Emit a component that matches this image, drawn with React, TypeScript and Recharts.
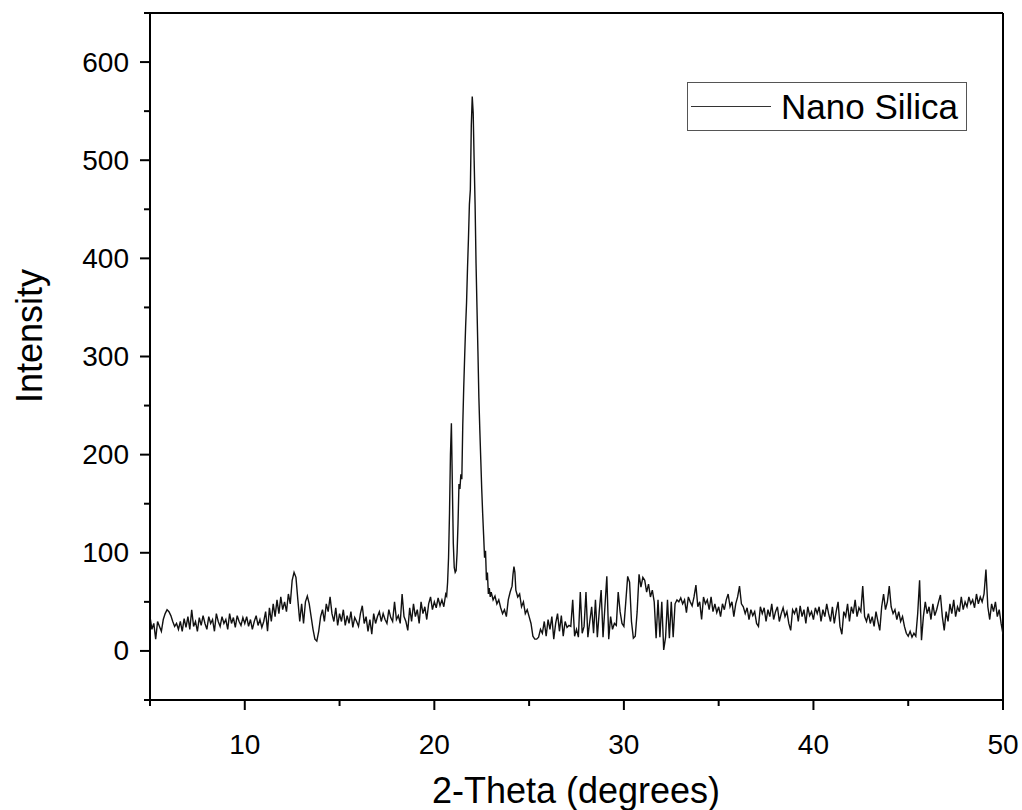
import { LineChart, Line, XAxis, YAxis, Legend, Label, ReferenceLine } from 'recharts';

// XRD scan of nano silica, 0.1 deg steps
const scan05to10 = [
  35, 22, 28, 12, 30, 25, 20, 32, 38, 42,
  40, 36, 30, 25, 28, 22, 30, 20, 33, 24,
  35, 22, 42, 25, 30, 20, 34, 26, 36, 28,
  22, 35, 28, 32, 20, 38, 30, 25, 35, 28,
  32, 22, 38, 28, 34, 24, 36, 30, 26, 34,
];
const scan10to15 = [
  28, 35, 25, 32, 22, 30, 36, 26, 32, 24,
  30, 40, 20, 44, 30, 48, 35, 52, 38, 55,
  42, 50, 40, 58, 48, 72, 80, 75, 52, 30,
  48, 28, 50, 56, 48, 35, 22, 12, 10, 20,
  35, 42, 30, 48, 40, 55, 38, 30, 44, 26,
];
const scan15to20 = [
  38, 30, 42, 26, 36, 28, 40, 24, 34, 30,
  25, 38, 46, 28, 35, 20, 32, 17, 38, 28,
  35, 40, 30, 38, 32, 28, 42, 34, 30, 50,
  32, 36, 28, 58, 35, 30, 21, 44, 30, 48,
  35, 42, 28, 50, 38, 45, 32, 48, 55, 42,
];
// main reflection region, finer sampling
const peakTheta = [
  20.0, 20.1, 20.2, 20.3, 20.4, 20.5, 20.6, 20.65, 20.7, 20.75, 20.8, 20.85, 20.9, 20.95,
  21.0, 21.05, 21.1, 21.15, 21.2, 21.25, 21.3, 21.35, 21.4, 21.45, 21.5, 21.55, 21.6, 21.65,
  21.7, 21.75, 21.8, 21.85, 21.9, 21.95, 22.0, 22.05, 22.1, 22.15, 22.2, 22.25, 22.3, 22.35,
  22.4, 22.45, 22.5, 22.55, 22.6, 22.65, 22.7, 22.75, 22.8, 22.85, 22.9, 22.95, 23.0, 23.1,
  23.2, 23.3, 23.4, 23.5, 23.6, 23.7, 23.8, 23.9, 24.0, 24.1, 24.15, 24.2, 24.25, 24.3,
  24.4, 24.5, 24.6, 24.7, 24.8, 24.9,
];
const peakIntensity = [
  50, 44, 54, 46, 52, 45, 58, 56, 70, 95, 140, 200, 232, 170,
  110, 85, 80, 82, 100, 130, 170, 165, 180, 175, 230, 268, 300, 330,
  355, 390, 420, 455, 470, 535, 565, 548, 500, 455, 395, 350, 305, 258,
  225, 195, 165, 140, 118, 95, 102, 72, 80, 58, 64, 55, 60, 52,
  56, 48, 52, 44, 38, 42, 35, 52, 60, 66, 78, 86, 80, 62,
  55, 58, 45, 50, 38, 42,
];
const scan25to30 = [
  35, 28, 15, 12, 12, 14, 22, 18, 30, 15,
  32, 22, 35, 12, 28, 38, 20, 36, 15, 30,
  24, 26, 25, 52, 15, 22, 14, 60, 18, 25,
  60, 14, 30, 45, 18, 52, 14, 40, 62, 14,
  45, 76, 12, 35, 22, 28, 26, 60, 40, 28,
];
const scan30to35 = [
  25, 50, 76, 70, 30, 13, 15, 40, 78, 65,
  75, 72, 60, 68, 55, 62, 50, 13, 52, 14,
  50, 1, 14, 52, 13, 50, 14, 48, 52, 50,
  54, 48, 52, 39, 55, 50, 46, 55, 67, 45,
  50, 32, 55, 48, 52, 42, 55, 40, 48, 39,
];
const scan35to40 = [
  45, 35, 48, 42, 52, 58, 45, 50, 35, 48,
  55, 66, 48, 45, 38, 44, 32, 42, 36, 40,
  28, 25, 45, 38, 44, 30, 42, 35, 48, 32,
  40, 45, 30, 38, 44, 35, 40, 28, 21, 42,
  38, 44, 30, 46, 35, 42, 28, 45, 36, 40,
];
const scan40to45 = [
  32, 44, 38, 45, 30, 42, 35, 48, 38, 30,
  45, 28, 40, 50, 25, 17, 40, 35, 48, 30,
  45, 38, 52, 35, 44, 40, 66, 35, 30, 38,
  28, 35, 25, 40, 30, 21, 45, 58, 42, 50,
  66, 45, 38, 42, 32, 40, 30, 35, 25, 18,
];
const scan45to50 = [
  15, 20, 14, 18, 15, 38, 72, 11, 35, 50,
  38, 45, 32, 48, 36, 42, 50, 57, 35, 21,
  40, 30, 48, 38, 52, 35, 45, 40, 55, 42,
  50, 45, 55, 48, 52, 44, 58, 48, 55, 50,
  58, 83, 45, 32, 48, 40, 50, 35, 42, 28, 17,
];

const yTicks = [-50, 0, 50, 100, 150, 200, 250, 300, 350, 400, 450, 500, 550, 600, 650];
const xTicks = [5, 10, 15, 20, 25, 30, 35, 40, 45, 50];

const FONT = '"Liberation Sans", Arial, sans-serif';

function stepRows(start: number, values: number[]) {
  return values.map((v, i) => ({ theta: Math.round((start + i * 0.1) * 100) / 100, intensity: v }));
}

const data = [
  ...stepRows(5, scan05to10),
  ...stepRows(10, scan10to15),
  ...stepRows(15, scan15to20),
  ...peakTheta.map((t, i) => ({ theta: t, intensity: peakIntensity[i] })),
  ...stepRows(25, scan25to30),
  ...stepRows(30, scan30to35),
  ...stepRows(35, scan35to40),
  ...stepRows(40, scan40to45),
  ...stepRows(45, scan45to50),
];

const YTick = (props: any) => {
  const { x, y, payload } = props;
  const major = payload.value % 100 === 0;
  return (
    <g>
      <line x1={x} y1={y} x2={x - (major ? 10 : 6)} y2={y} stroke="#000" strokeWidth={2} />
      {major && (
        <text x={x - 21} y={y} textAnchor="end" dominantBaseline="central" fontSize={28} fontFamily={FONT} fill="#000">
          {payload.value}
        </text>
      )}
    </g>
  );
};

const XTick = (props: any) => {
  const { x, y, payload } = props;
  const major = payload.value % 10 === 0;
  return (
    <g>
      <line x1={x} y1={y} x2={x} y2={y + (major ? 10 : 6)} stroke="#000" strokeWidth={2} />
      {major && (
        <text x={x} y={y + 44} textAnchor="middle" dominantBaseline="central" fontSize={28} fontFamily={FONT} fill="#000">
          {payload.value}
        </text>
      )}
    </g>
  );
};

const LegendBox = () => (
  <div
    style={{
      boxSizing: 'border-box',
      width: 280,
      height: 49,
      border: '1.5px solid #555',
      background: '#fff',
      display: 'flex',
      alignItems: 'center',
      fontFamily: FONT,
      fontSize: 35,
      color: '#000',
    }}
  >
    <div style={{ width: 80, height: 0, borderTop: '1.5px solid #333', marginLeft: 3, marginRight: 10 }} />
    <span>Nano Silica</span>
  </div>
);

export default function App() {
  return (
    <div style={{ position: 'absolute', left: 0, top: 0, width: 1022, height: 810, background: '#fff' }}>
      <LineChart width={1022} height={810} data={data} margin={{ top: 13, right: 19, bottom: 50, left: 0 }}>
        <XAxis
          dataKey="theta"
          type="number"
          domain={[5, 50]}
          ticks={xTicks}
          interval={0}
          allowDataOverflow
          tickLine={false}
          tickSize={0}
          tickMargin={0}
          tick={<XTick />}
          height={60}
          axisLine={{ stroke: '#000', strokeWidth: 2 }}
        >
          <Label
            content={() => (
              <text x={576} y={790} textAnchor="middle" dominantBaseline="central" fontSize={36} fontFamily={FONT} fill="#000">
                2-Theta (degrees)
              </text>
            )}
          />
        </XAxis>
        <YAxis
          type="number"
          domain={[-50, 650]}
          ticks={yTicks}
          interval={0}
          allowDataOverflow
          tickLine={false}
          tickSize={0}
          tickMargin={0}
          tick={<YTick />}
          width={150}
          axisLine={{ stroke: '#000', strokeWidth: 2 }}
        >
          <Label
            content={() => (
              <text
                x={29}
                y={336}
                transform="rotate(-90 29 336)"
                textAnchor="middle"
                dominantBaseline="central"
                fontSize={36}
                fontFamily={FONT}
                fill="#000"
              >
                Intensity
              </text>
            )}
          />
        </YAxis>
        {/* frame: top and right edges */}
        <ReferenceLine y={650} stroke="#000" strokeWidth={2} />
        <ReferenceLine x={50} stroke="#000" strokeWidth={2} />
        <Legend
          layout="vertical"
          align="center"
          verticalAlign="middle"
          content={<LegendBox />}
          wrapperStyle={{ position: 'absolute', left: 687, top: 82, width: 280, height: 49 }}
        />
        <Line
          type="linear"
          dataKey="intensity"
          name="Nano Silica"
          stroke="#111"
          strokeWidth={1.4}
          dot={false}
          activeDot={false}
          isAnimationActive={false}
        />
      </LineChart>
    </div>
  );
}
